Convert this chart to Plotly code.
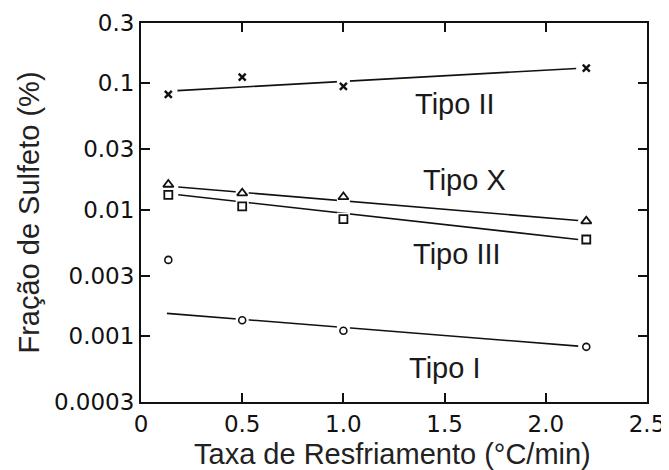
import math
import plotly.graph_objects as go

# Data
taxa = [0.135, 0.5, 1.0, 2.2]
tipo_ii = [0.0818, 0.112, 0.0946, 0.132]
tipo_x = [0.0158, 0.0135, 0.0126, 0.0081]
tipo_iii = [0.0131, 0.0106, 0.0084, 0.0058]
tipo_i_x = [0.135, 0.5, 1.0, 2.2]
tipo_i = [0.0040, 0.00133, 0.00110, 0.00082]

# Fitted lines (endpoints)
fit_ii_x = [0.18, 2.15]
fit_ii = [0.0875, 0.131]
fit_x_x = [0.184, 2.16]
fit_x = [0.0151, 0.0082]
fit_iii_x = [0.184, 2.16]
fit_iii = [0.0131, 0.0058]
fit_i_x = [0.128, 2.16]
fit_i = [0.00151, 0.00083]

x_ticks = [0, 0.5, 1.0, 1.5, 2.0, 2.5]
x_ticktext = ["0", "0.5", "1.0", "1.5", "2.0", "2.5"]
y_ticks = [0.0003, 0.001, 0.003, 0.01, 0.03, 0.1, 0.3]
y_ticktext = ["0.0003", "0.001", "0.003", "0.01", "0.03", "0.1", "0.3"]

labels = ["Tipo II", "Tipo X", "Tipo III", "Tipo I"]
label_x = [1.55, 1.60, 1.56, 1.50]
label_y = [0.0689, 0.0170, 0.00449, 0.00056]

x_title = "Taxa de Resfriamento (°C/min)"
y_title = "Fração de Sulfeto (%)"

fig = go.Figure()
line_style = dict(color="#111111", width=1.6)
for fx, fy in [(fit_ii_x, fit_ii), (fit_x_x, fit_x), (fit_iii_x, fit_iii), (fit_i_x, fit_i)]:
    fig.add_trace(go.Scatter(x=fx, y=fy, mode="lines", line=line_style,
                             hoverinfo="skip", showlegend=False))

# white halos to break lines around markers
for xs, ys in [(taxa, tipo_ii), (taxa, tipo_x), (taxa, tipo_iii), (tipo_i_x, tipo_i)]:
    fig.add_trace(go.Scatter(x=xs, y=ys, mode="markers",
                             marker=dict(symbol="square", size=13, color="white"),
                             hoverinfo="skip", showlegend=False))

fig.add_trace(go.Scatter(x=taxa, y=tipo_ii, mode="markers", name="Tipo II",
                         marker=dict(symbol="x-thin", size=7, line=dict(color="#111111", width=2.4))))
fig.add_trace(go.Scatter(x=taxa, y=tipo_x, mode="markers", name="Tipo X",
                         marker=dict(symbol="triangle-up", size=9, color="white",
                                     line=dict(color="#111111", width=1.8))))
fig.add_trace(go.Scatter(x=taxa, y=tipo_iii, mode="markers", name="Tipo III",
                         marker=dict(symbol="square", size=8, color="white",
                                     line=dict(color="#111111", width=1.8))))
fig.add_trace(go.Scatter(x=tipo_i_x, y=tipo_i, mode="markers", name="Tipo I",
                         marker=dict(symbol="circle", size=7, color="white",
                                     line=dict(color="#111111", width=1.6))))

for t, lx, ly in zip(labels, label_x, label_y):
    fig.add_annotation(x=lx, y=math.log10(ly), xref="x", yref="y", text=t, showarrow=False,
                       font=dict(family="Liberation Sans, Arial", size=29, color="#1a1a1a"))

# x-axis title as an annotation so it can sit lower than plotly's margin constraint allows
fig.add_annotation(x=0.497, y=0, xref="paper", yref="paper", yanchor="middle",
                   yshift=-52, text=x_title, showarrow=False,
                   font=dict(family="Liberation Sans, Arial", size=29, color="#222222"))

fig.update_xaxes(range=[0, 2.5], tickvals=x_ticks, ticktext=x_ticktext, automargin=False,
                 showline=True, linecolor="#111111", linewidth=2, mirror="ticks",
                 ticks="inside", ticklen=9, tickwidth=2, tickcolor="#111111",
                 showgrid=False, zeroline=False,
                 tickfont=dict(family="DejaVu Sans", size=23, color="#111111"))
fig.update_yaxes(type="log", range=[-3.5229, -0.5229], tickvals=y_ticks, ticktext=y_ticktext,
                 automargin=False,
                 showline=True, linecolor="#111111", linewidth=2, mirror="ticks",
                 ticks="inside", ticklen=9, tickwidth=2, tickcolor="#111111",
                 showgrid=False, zeroline=False,
                 tickfont=dict(family="DejaVu Sans", size=23, color="#111111"),
                 title=dict(text=y_title, standoff=6,
                            font=dict(family="Liberation Sans, Arial", size=29, color="#222222")))

# page body has an 8px default margin: size the figure to fit the 669x470 window
fig.update_layout(width=661, height=462, margin=dict(l=133, r=22, t=15, b=68),
                  paper_bgcolor="white", plot_bgcolor="white", showlegend=False)

fig.write_html("out.html")
